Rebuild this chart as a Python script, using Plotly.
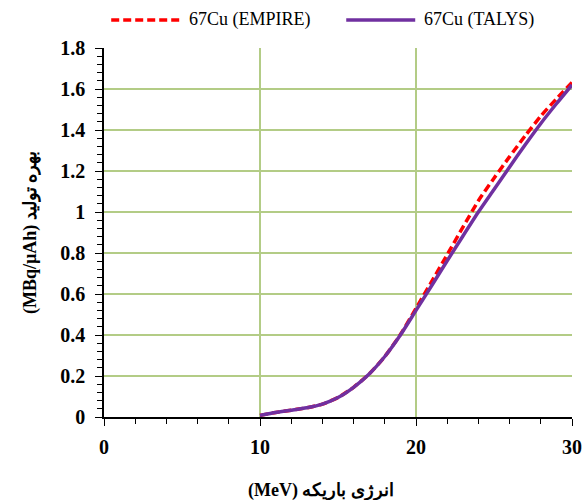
import plotly.graph_objects as go

# Beam energy (MeV)
energy = [10, 11, 12, 13, 14, 15, 16, 17, 18, 19, 20, 21, 22, 23, 24, 25, 26, 27, 28, 29, 30]

# Production yield of 67Cu (MBq/µAh)
yield_empire = [0.008, 0.022, 0.033, 0.045, 0.063, 0.095, 0.145, 0.210, 0.295, 0.402, 0.530,
                0.660, 0.792, 0.925, 1.055, 1.165, 1.270, 1.372, 1.468, 1.552, 1.632]
yield_talys = [0.008, 0.022, 0.033, 0.045, 0.063, 0.095, 0.145, 0.210, 0.295, 0.400, 0.520,
               0.640, 0.762, 0.882, 1.000, 1.110, 1.220, 1.328, 1.432, 1.528, 1.620]

series_names = ["67Cu (EMPIRE)", "67Cu (TALYS)"]
series_colors = ["#ff0000", "#7030a0"]
series_dash = ["8px,4px", "solid"]

x_ticks = [0, 10, 20, 30]
y_ticks = [0, 0.2, 0.4, 0.6, 0.8, 1, 1.2, 1.4, 1.6, 1.8]

x_title = "(MeV) انرژی باریکه"
y_title = "(MBq/µAh) بهره تولید"

serif = "Liberation Serif"
title_font = dict(family=serif, size=18, color="black", weight="bold")
grid = "#b3cc86"

fig = go.Figure()
for name, ys, color, dash in zip(series_names, [yield_empire, yield_talys], series_colors, series_dash):
    fig.add_trace(go.Scatter(
        x=energy, y=ys, mode="lines", name=name, showlegend=False,
        line=dict(color=color, width=3.5, dash=dash, shape="spline", smoothing=0.6),
    ))

# Legend drawn above the plot: a line sample followed by its label
legend_x = [(0.0154, 0.1622, 0.1776), (0.5176, 0.665, 0.679)]
for (x0, x1, xt), name, color, dash in zip(legend_x, series_names, series_colors, series_dash):
    fig.add_shape(type="line", xref="paper", yref="paper", x0=x0, x1=x1, y0=1.076, y1=1.076,
                  line=dict(color=color, width=3.5, dash=dash))
    fig.add_annotation(xref="paper", yref="paper", x=xt, y=1.076, xanchor="left", yanchor="middle",
                       text=name, showarrow=False, font=dict(family=serif, size=18, color="black"))

fig.add_annotation(xref="paper", yref="paper", x=0.464, y=-0.198, xanchor="center", yanchor="middle",
                   text=x_title, showarrow=False, font=title_font)
fig.add_annotation(xref="paper", yref="paper", x=-0.157, y=0.5, xanchor="center", yanchor="middle",
                   text=y_title, textangle=-90, showarrow=False, font=title_font)

axis_common = dict(
    showgrid=True, gridcolor=grid, gridwidth=1.5,
    showline=True, linecolor="black", linewidth=1.5,
    ticks="outside", ticklen=7, tickcolor="black", tickwidth=1.3,
    tickfont=dict(family=serif, size=20, color="black", weight="bold"),
    zeroline=False, automargin=False,
)

fig.update_layout(
    width=583, height=500,
    margin=dict(l=103.5, r=11, t=48, b=83),
    plot_bgcolor="white", paper_bgcolor="white",
    font=dict(family=serif, color="black"),
    showlegend=False,
    xaxis=dict(
        range=[0, 30], tickvals=x_ticks, ticktext=[str(v) for v in x_ticks],
        minor=dict(dtick=2, ticks="outside", ticklen=5, tickcolor="black", showgrid=False),
        ticklabelstandoff=4,
        **axis_common,
    ),
    yaxis=dict(
        range=[0, 1.8], tickvals=y_ticks, ticktext=[f"{v:g}" for v in y_ticks],
        minor=dict(dtick=0.04, ticks="outside", ticklen=5, tickcolor="black", showgrid=False),
        ticklabelstandoff=6,
        **axis_common,
    ),
)

fig.write_html("out.html")
